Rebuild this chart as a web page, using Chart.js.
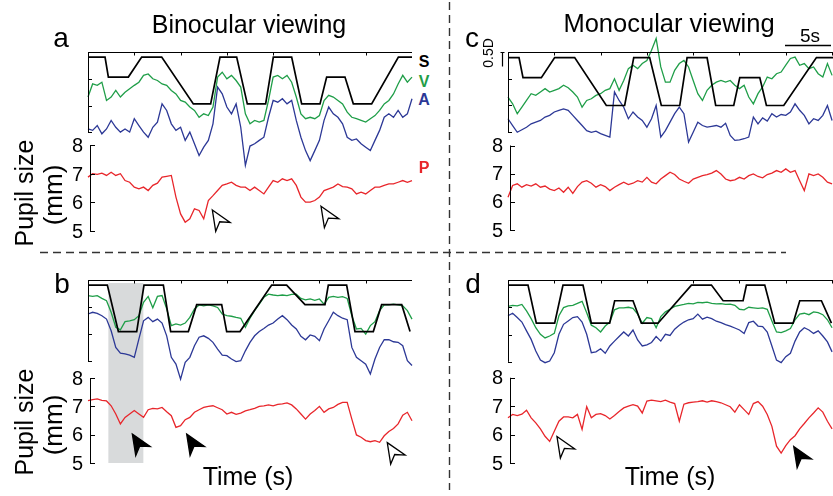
<!DOCTYPE html>
<html>
<head>
<meta charset="utf-8">
<script src="https://cdn.jsdelivr.net/npm/chart.js@4.4.0/dist/chart.umd.min.js"></script>
<style>
  body { margin: 0; background: #fff; }
  #fig { position: relative; width: 833px; height: 496px; overflow: hidden; background: #fff;
         font-family: "Liberation Sans", Arial, sans-serif; color: #000; }
  #fig canvas { position: absolute; }
  .lbl { position: absolute; white-space: nowrap; line-height: 1; transform: translate(-50%, -50%); }
  .rot { transform: translate(-50%, -50%) rotate(-90deg); }
</style>
</head>
<body>
<div id="fig">
  <svg width="833" height="496" style="position:absolute;left:0;top:0">
    <line x1="449.5" y1="2" x2="449.5" y2="490" stroke="#333" stroke-width="1.4" stroke-dasharray="8,5"/>
    <line x1="40" y1="252.5" x2="786" y2="252.5" stroke="#333" stroke-width="1.4" stroke-dasharray="8,5"/>
    <line x1="785" y1="45.5" x2="831" y2="45.5" stroke="#000" stroke-width="1.5"/>
    <path d="M500.5 52.5 H504.5 M502.5 52.5 V66.5" stroke="#000" stroke-width="1.2" fill="none"/>
  </svg>
  <canvas id="ca" style="left:30px;top:30px"></canvas>
  <canvas id="cb" style="left:30px;top:258px"></canvas>
  <canvas id="cc" style="left:450px;top:30px"></canvas>
  <canvas id="cd" style="left:450px;top:258px"></canvas>

  <div class="lbl" style="left:249px;top:24px;font-size:25px">Binocular viewing</div>
  <div class="lbl" style="left:669px;top:24px;font-size:25.5px">Monocular viewing</div>
  <div class="lbl" style="left:61px;top:38px;font-size:28px">a</div>
  <div class="lbl" style="left:472px;top:38px;font-size:28px">c</div>
  <div class="lbl" style="left:62px;top:284px;font-size:28px">b</div>
  <div class="lbl" style="left:473px;top:284px;font-size:28px">d</div>

  <div class="lbl rot" style="left:24px;top:193px;font-size:25px">Pupil size</div>
  <div class="lbl rot" style="left:53px;top:195px;font-size:26px">(mm)</div>
  <div class="lbl rot" style="left:24px;top:422px;font-size:25px">Pupil size</div>
  <div class="lbl rot" style="left:53px;top:425px;font-size:26px">(mm)</div>
  <div class="lbl" style="left:248px;top:476px;font-size:25px">Time (s)</div>
  <div class="lbl" style="left:670px;top:476px;font-size:25px">Time (s)</div>

  <div class="lbl" style="left:424px;top:62px;font-size:16px;font-weight:bold;color:#000">S</div>
  <div class="lbl" style="left:424px;top:82px;font-size:16px;font-weight:bold;color:#1f9e48">V</div>
  <div class="lbl" style="left:424px;top:100px;font-size:16px;font-weight:bold;color:#2c3896">A</div>
  <div class="lbl" style="left:424px;top:168px;font-size:16px;font-weight:bold;color:#e8262b">P</div>

  <div class="lbl" style="left:810px;top:35px;font-size:19px">5s</div>
  <div class="lbl rot" style="left:488px;top:53px;font-size:14px">0.5D</div>
</div>

<script>
// sample times (s), shared by the noisy traces of every panel
const time = [0,0.5,1,1.5,2,2.5,3,3.5,4,4.5,5,5.5,6,6.5,7,7.5,8,8.5,9,9.5,
  10,10.5,11,11.5,12,12.5,13,13.5,14,14.5,15,15.5,16,16.5,17,17.5,18,18.5,19,19.5,
  20,20.5,21,21.5,22,22.5,23,23.5,24,24.5,25,25.5,26,26.5,27,27.5,28,28.5,29,29.5,
  30,30.5,31,31.5,32,32.5,33,33.5,34,34.5,35];

const pupilTicks = [5, 6, 7, 8];

// ---- panel a : binocular ----
const sTimeA = [0,1.84,2.2,4.36,5.8,7.96,11.38,13.25,14.26,16.06,17.21,19.19,20.02,22.0,23.08,25.06,25.78,27.76,28.66,30.64,33.53,35];
const sValA  = [11.10,11.10,10.40,10.40,11.10,11.10,9.46,9.46,11.10,11.10,9.46,9.46,11.10,11.10,9.46,9.46,10.40,10.40,9.46,9.46,11.10,11.10];
const vA = [9.70,10.16,10.11,10.22,9.58,9.70,9.93,9.70,9.87,9.99,
  10.11,10.22,10.46,10.51,10.34,10.28,10.16,10.11,9.93,9.81,
  9.58,9.52,9.35,9.23,8.99,9.11,9.05,9.35,10.40,10.57,
  10.34,10.46,10.28,10.05,9.11,8.76,8.88,8.82,8.88,9.58,
  10.40,10.46,10.34,10.46,10.22,9.70,9.11,8.94,8.99,8.94,
  9.05,9.58,9.76,9.70,9.58,9.46,9.17,8.99,8.94,8.88,
  8.82,8.94,9.05,9.23,9.46,9.58,9.81,10.16,10.46,10.22,10.40];
const aA = [8.58,8.53,8.70,8.41,8.58,8.88,8.64,8.47,8.58,8.47,
  8.94,8.70,8.47,8.29,8.64,8.82,9.46,9.23,8.76,8.53,
  8.64,8.18,8.47,8.06,7.65,7.94,8.18,8.76,10.05,9.81,
  9.35,9.11,9.46,8.64,7.30,7.98,8.06,8.18,8.29,8.99,
  9.58,9.52,9.64,9.46,9.58,8.88,8.29,7.82,7.47,7.82,
  8.18,8.88,9.35,9.11,8.99,8.76,8.29,8.18,8.23,8.06,
  7.94,7.82,8.18,8.53,8.99,9.11,8.99,9.23,8.99,9.11,9.64];
const pA = [6.89,7.01,6.99,7.03,6.95,7.06,6.95,7.01,6.77,6.71,
  6.54,6.48,6.54,6.42,6.60,6.68,6.89,6.92,6.95,6.19,
  5.60,5.31,5.43,5.78,5.72,5.43,6.07,6.24,6.42,6.60,
  6.65,6.71,6.60,6.54,6.54,6.42,6.54,6.42,6.30,6.54,
  6.77,6.71,6.83,6.77,6.83,6.60,6.19,6.01,6.01,6.07,
  6.19,6.42,6.48,6.54,6.65,6.56,6.54,6.48,6.30,6.36,
  6.30,6.42,6.54,6.54,6.60,6.65,6.65,6.71,6.77,6.71,6.77];
const arrowsA = [{t: 13.43, v: 5.74, filled: false}, {t: 25.17, v: 5.87, filled: false}];

// ---- panel b : binocular ----
const sTimeB = [0,2.09,3.28,5.26,6.05,8.14,8.93,10.84,11.74,14.44,14.98,16.42,19.84,21.46,23.44,25.6,25.96,27.94,28.84,30.82,31.72,33.89,34.79];
const sValB  = [11.28,11.28,9.64,9.64,11.28,11.28,9.64,9.64,10.59,10.59,9.64,9.64,11.28,11.28,10.59,10.59,11.28,11.28,9.64,9.64,10.59,10.59,9.64];
const vB = [10.91,10.88,10.91,10.81,10.73,10.32,9.79,9.70,9.99,10.02,
  10.06,10.20,10.67,10.88,10.48,10.88,10.91,10.44,9.85,9.91,
  9.87,9.94,10.14,10.44,10.58,10.55,10.58,10.55,10.49,10.26,
  10.20,10.18,10.14,10.11,9.79,10.11,10.38,10.61,10.85,10.96,
  10.93,10.91,10.93,10.91,10.95,10.96,10.81,10.76,10.79,10.74,
  10.79,10.61,10.85,10.88,10.85,10.87,10.81,10.20,9.73,9.75,
  9.55,9.85,9.99,10.38,10.58,10.58,10.61,10.58,10.55,10.38,10.08];
const aB = [10.26,10.32,10.28,10.20,10.08,9.67,9.08,8.88,8.85,8.81,
  8.73,9.38,10.02,10.14,9.99,10.08,9.94,9.49,8.73,8.49,
  7.96,8.55,8.73,9.14,9.44,9.49,9.40,9.26,9.02,8.81,
  8.79,8.67,8.58,8.61,8.96,9.26,9.49,9.64,9.75,9.87,
  9.94,10.08,10.20,10.06,9.87,9.73,9.47,9.35,9.52,9.47,
  9.32,9.73,10.02,10.32,10.20,10.11,10.06,9.08,8.73,8.61,
  8.49,8.14,8.67,9.08,9.35,9.35,9.28,9.26,9.14,8.61,8.44];
const pB = [7.20,7.24,7.26,7.21,7.19,7.02,6.73,6.38,6.61,6.73,
  6.85,6.73,6.61,6.88,6.93,6.91,6.96,6.81,6.67,6.26,
  6.32,6.53,6.61,6.79,6.88,6.96,7.00,7.02,6.95,6.88,
  6.73,6.79,6.72,6.76,6.84,6.88,6.93,7.00,7.02,7.05,
  7.02,7.07,7.09,7.12,7.05,6.91,6.73,6.55,6.73,6.85,
  7.00,6.79,6.91,6.96,7.07,7.14,7.14,6.55,5.99,5.91,
  5.79,5.75,5.79,5.73,5.96,6.11,6.22,6.38,6.69,6.79,6.49];
const shadeB = [2.2, 5.98];
const arrowsB = [{t: 4.79, v: 6.02, filled: true}, {t: 10.66, v: 6.02, filled: true}, {t: 32.33, v: 5.72, filled: false}];

// ---- panel c : monocular ----
const sTimeC = [0,1.19,1.62,3.6,5.04,7.2,10.62,12.6,13.58,15.3,16.56,18.55,19.34,21.5,22.43,24.38,25.03,27.19,27.91,29.78,33.31,35.1];
const sValC  = [11.12,11.12,10.41,10.41,11.12,11.12,9.42,9.42,11.12,11.12,9.42,9.42,11.12,11.12,9.42,9.42,10.41,10.41,9.42,9.42,11.12,11.12];
const vC = [9.72,9.48,9.13,9.36,9.60,9.84,9.78,9.90,10.02,9.90,
  9.96,10.02,10.14,10.05,9.90,9.72,9.36,9.60,9.66,9.78,
  9.84,9.96,10.02,10.37,9.96,10.31,10.73,10.85,10.73,10.91,
  11.02,11.38,11.80,10.79,10.25,10.25,10.67,10.91,11.02,10.79,
  10.31,9.84,9.60,9.96,10.14,10.25,10.31,10.25,10.31,10.14,
  10.02,10.14,9.72,9.48,9.84,10.08,10.43,10.37,10.55,10.61,
  10.85,11.09,11.14,10.85,10.91,10.73,10.79,10.55,10.43,10.91,10.49];
const aC = [8.95,8.71,8.47,8.56,8.65,8.77,8.83,8.89,9.01,9.07,
  9.19,9.25,9.30,9.25,9.07,8.89,8.71,8.53,8.47,8.51,
  8.42,8.36,8.30,9.90,9.60,9.36,8.95,9.19,9.01,8.89,
  8.65,8.95,9.42,8.30,8.53,8.83,9.13,9.36,9.13,8.12,
  8.47,8.83,8.71,8.65,8.68,8.71,8.65,8.79,8.36,8.18,
  8.20,8.24,8.30,9.01,8.77,8.98,8.87,9.13,9.01,9.10,
  9.07,9.19,9.48,9.25,9.07,8.77,8.95,8.89,9.07,9.42,8.89];
const pC = [6.16,6.58,6.64,6.52,6.61,6.56,6.64,6.52,6.56,6.45,
  6.40,6.49,6.34,6.52,6.30,6.54,6.70,6.75,6.66,6.52,
  6.61,6.54,6.40,6.52,6.61,6.70,6.61,6.66,6.75,6.70,
  6.87,6.70,6.64,6.81,6.93,7.05,6.97,6.81,6.73,6.66,
  6.81,6.87,6.93,6.97,7.02,7.11,6.99,6.81,6.75,6.78,
  6.87,6.81,6.93,6.99,6.90,6.85,6.97,7.02,7.11,7.05,
  7.17,7.05,7.11,6.75,6.40,6.99,6.93,6.99,6.87,6.70,6.64];

// ---- panel d : monocular ----
const sTimeD = [0,2.16,3.06,5.04,5.94,8.1,9.0,10.98,11.52,13.5,14.4,16.2,19.81,21.97,23.23,25.39,25.75,27.73,28.81,30.79,31.51,33.85,34.93];
const sValD  = [11.26,11.26,9.92,9.92,11.26,11.26,9.92,9.92,10.71,10.71,9.92,9.92,11.26,11.26,10.71,10.71,11.26,11.26,9.92,9.92,10.71,10.71,9.92];
const vD = [10.51,10.55,10.53,10.58,10.35,10.08,9.76,9.53,9.40,9.47,
  9.56,10.18,10.47,10.53,10.55,10.62,10.69,10.29,9.85,9.76,
  9.61,9.82,9.96,10.39,10.46,10.46,10.48,10.44,10.24,9.92,
  10.12,10.08,9.76,10.15,10.32,10.41,10.51,10.55,10.58,10.62,
  10.60,10.65,10.64,10.66,10.62,10.60,10.61,10.58,10.59,10.55,
  10.41,10.39,10.48,10.46,10.44,10.46,10.41,10.00,9.61,9.59,
  9.65,9.73,10.04,10.24,10.27,10.22,10.32,10.29,10.22,10.04,9.76];
const aD = [10.18,10.27,10.12,9.96,9.65,9.35,8.94,8.62,8.53,8.59,
  8.88,9.53,9.88,10.00,10.12,10.15,9.96,9.53,8.88,8.91,
  9.02,8.86,9.12,9.29,9.45,9.61,9.47,9.68,9.33,9.12,
  9.16,9.24,9.45,9.29,9.53,9.49,9.71,9.85,9.96,10.04,
  10.08,10.24,10.06,10.13,10.08,9.99,9.94,9.87,9.82,9.75,
  9.68,9.56,9.94,9.99,9.82,9.80,9.61,9.12,8.62,8.53,
  8.74,8.86,9.29,9.61,9.76,9.68,9.56,9.65,9.47,9.26,8.91];
const pD = [6.59,6.71,6.67,6.72,6.86,6.59,6.41,6.20,5.94,5.76,
  6.12,6.47,6.62,6.62,6.59,6.71,6.18,6.98,6.59,6.71,
  6.74,6.67,6.55,6.67,6.81,6.94,7.00,7.05,7.00,6.76,
  7.18,7.21,7.19,7.16,7.21,7.14,7.09,6.47,7.07,7.12,
  7.14,7.16,7.19,7.14,7.19,7.16,7.12,7.05,6.98,6.79,
  7.05,6.88,6.71,7.09,7.16,7.00,6.71,6.29,5.59,5.35,
  5.61,5.82,5.96,6.20,6.39,6.59,6.76,6.94,6.79,6.47,6.20];
const arrowsD = [{t: 5.29, v: 5.93, filled: false}, {t: 30.86, v: 5.58, filled: true}];

const colS = '#000000', colV = '#1f9e48', colA = '#2c3896', colP = '#e8262b';

function drawArrow(ctx, px, py, filled) {
  // arrowhead pointing up-left, tip at (px, py)
  const ang = -122 * Math.PI / 180;
  const ux = Math.cos(ang), uy = Math.sin(ang), nx = -uy, ny = ux;
  const L = 20, W = 8.5, N = 14;
  ctx.beginPath();
  ctx.moveTo(px, py);
  ctx.lineTo(px - L * ux + W * nx, py - L * uy + W * ny);
  ctx.lineTo(px - N * ux, py - N * uy);
  ctx.lineTo(px - L * ux - W * nx, py - L * uy - W * ny);
  ctx.closePath();
  ctx.fillStyle = filled ? '#000' : '#fff';
  ctx.fill();
  ctx.lineWidth = 1.3;
  ctx.strokeStyle = '#000';
  ctx.stroke();
}

const figAxes = {
  id: 'figAxes',
  beforeDatasetsDraw(chart, args, o) {
    if (!o.shade) return;
    const { ctx, chartArea: a, scales: { x, y } } = chart;
    const x0 = x.getPixelForValue(o.shade[0]), x1 = x.getPixelForValue(o.shade[1]);
    ctx.save();
    ctx.fillStyle = '#d8dadb';
    ctx.fillRect(x0, a.top + 3, x1 - x0, y.getPixelForValue(5) - a.top - 3);
    ctx.restore();
  },
  afterDatasetsDraw(chart, args, o) {
    const { ctx, chartArea: a, scales: { x, y } } = chart;
    ctx.save();
    ctx.strokeStyle = '#000';
    ctx.lineWidth = 1;
    ctx.beginPath();
    // top frame line with 5 s ticks
    ctx.moveTo(a.left, a.top + 0.5);
    ctx.lineTo(a.right, a.top + 0.5);
    for (let t = 5; t < x.max; t += 5) {
      const px = Math.round(x.getPixelForValue(t)) + 0.5;
      ctx.moveTo(px, a.top);
      ctx.lineTo(px, a.top + 3.5);
    }
    // left axis of the upper traces
    const yb = y.getPixelForValue(o.upperBottom);
    ctx.moveTo(a.left + 0.5, a.top);
    ctx.lineTo(a.left + 0.5, yb);
    for (let i = 0; i < 4; i++) {
      const py = Math.round(a.top + (yb - a.top) * i / 3) + 0.5;
      ctx.moveTo(a.left, py);
      ctx.lineTo(a.left + 4, py);
    }
    // pupil axis
    const ax = a.left + 2.5;
    ctx.moveTo(ax, y.getPixelForValue(8));
    ctx.lineTo(ax, y.getPixelForValue(5));
    pupilTicks.forEach(v => {
      const py = Math.round(y.getPixelForValue(v)) + 0.5;
      ctx.moveTo(ax - 0.5, py);
      ctx.lineTo(ax + 4.5, py);
    });
    ctx.stroke();
    ctx.fillStyle = '#000';
    ctx.font = '20px "Liberation Sans", Arial, sans-serif';
    ctx.textAlign = 'right';
    ctx.textBaseline = 'middle';
    pupilTicks.forEach(v => ctx.fillText(String(v), a.left - 5, y.getPixelForValue(v) + 1));
    (o.arrows || []).forEach(ar => drawArrow(ctx, x.getPixelForValue(ar.t), y.getPixelForValue(ar.v), ar.filled));
    ctx.restore();
  }
};

function line(times, values, color, width, order) {
  return {
    data: times.map((t, i) => ({ x: t, y: values[i] })),
    borderColor: color,
    borderWidth: width,
    pointRadius: 0,
    tension: 0,
    clip: false,
    order: order
  };
}

function makePanel(id, p) {
  const cv = document.getElementById(id);
  const pad = { left: 58, top: 22, right: p.padRight, bottom: 20 };
  cv.width = pad.left + p.w + pad.right;
  cv.height = pad.top + p.h + pad.bottom;
  cv.style.width = cv.width + 'px';
  cv.style.height = cv.height + 'px';
  new Chart(cv, {
    type: 'line',
    data: {
      datasets: [
        line(p.sT, p.sV, colS, 1.7, 0),
        line(time, p.v, colV, 1.3, 1),
        line(time, p.a, colA, 1.3, 2),
        line(time, p.p, colP, 1.3, 3)
      ]
    },
    options: {
      responsive: false,
      animation: false,
      devicePixelRatio: 1,
      events: [],
      layout: { padding: pad },
      plugins: {
        legend: { display: false },
        tooltip: { enabled: false },
        figAxes: { upperBottom: p.upperBottom, shade: p.shade || null, arrows: p.arrows || [] }
      },
      scales: {
        x: { type: 'linear', min: 0, max: p.xMax, display: false },
        y: { type: 'linear', min: 5, max: p.yMax, display: false }
      }
    },
    plugins: [figAxes]
  });
}

makePanel('ca', { w: 324, h: 179, padRight: 6, xMax: 35, yMax: 11.28, upperBottom: 8.46,
  sT: sTimeA, sV: sValA, v: vA, a: aA, p: pA, arrows: arrowsA });
makePanel('cb', { w: 324, h: 183, padRight: 6, xMax: 35, yMax: 11.46, upperBottom: 8.6,
  sT: sTimeB, sV: sValB, v: vB, a: aB, p: pB, arrows: arrowsB, shade: shadeB });
makePanel('cc', { w: 325, h: 178, padRight: 0, xMax: 35.1, yMax: 11.32, upperBottom: 8.48,
  sT: sTimeC, sV: sValC, v: vC, a: aC, p: pC });
makePanel('cd', { w: 325, h: 183, padRight: 0, xMax: 35.1, yMax: 11.44, upperBottom: 8.56,
  sT: sTimeD, sV: sValD, v: vD, a: aD, p: pD, arrows: arrowsD });
</script>
</body>
</html>
